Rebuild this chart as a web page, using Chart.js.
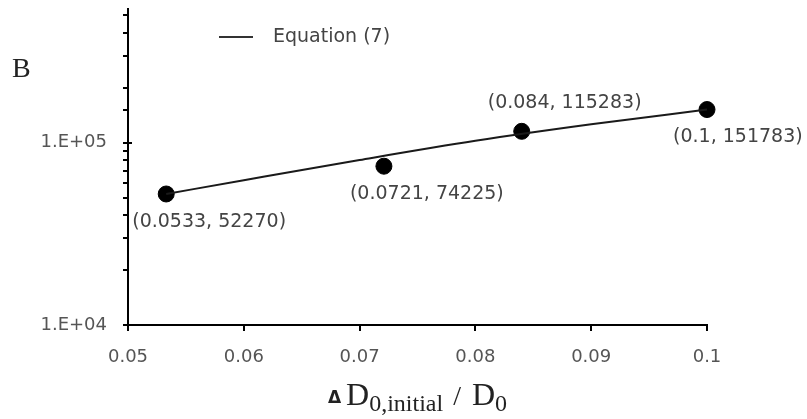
<!DOCTYPE html>
<html>
<head>
<meta charset="utf-8">
<script src="https://cdn.jsdelivr.net/npm/chart.js@4/dist/chart.umd.min.js"></script>
<style>
  html, body { margin: 0; padding: 0; background: #fff; }
</style>
</head>
<body>
<canvas id="chart" width="807" height="419"></canvas>
<script>
// measured points (x = dD0,initial / D0, B)
const dataX = [0.0533, 0.0721, 0.084, 0.1];
const dataB = [52270, 74225, 115283, 151783];
// Equation (7) curve
const eqX = [0.0533, 0.06, 0.07, 0.08, 0.09, 0.1];
const eqB = [52270, 62200, 80300, 102300, 126000, 151783];
// axis ticks
const xTicks = [0.05, 0.06, 0.07, 0.08, 0.09, 0.1];
const yMajor = [1e4, 1e5];
const yMajorLabels = ['1.E+04', '1.E+05'];
// where each point label sits
const labelSide = ['below', 'below', 'above', 'below'];

const sans = 'DejaVu Sans';
const serif = 'Liberation Serif';

const majorIndex = v => yMajor.findIndex(m => Math.abs(v - m) < m * 1e-6);

// ticks, point labels, legend and axis titles
const decor = {
    id: 'decor',
    afterDraw(chart) {
        const c = chart.ctx;
        const ca = chart.chartArea;
        const xs = chart.scales.x, ys = chart.scales.y;
        c.save();
        c.strokeStyle = '#000';
        c.lineWidth = 2;
        c.beginPath();
        ys.ticks.forEach(t => {
            if (t.value > ys.max * 0.999) return;
            const py = Math.round(ys.getPixelForValue(t.value));
            const major = majorIndex(t.value) >= 0;
            c.moveTo(ca.left - 5, py);
            c.lineTo(major ? ca.left + 4 : ca.left, py);
        });
        xs.ticks.forEach(t => {
            const px = Math.round(xs.getPixelForValue(t.value));
            c.moveTo(px, ca.bottom);
            c.lineTo(px, ca.bottom + 6);
        });
        c.stroke();

        // point labels
        const pts = chart.getDatasetMeta(1).data;
        c.font = '19px "' + sans + '"';
        c.fillStyle = '#444';
        c.textAlign = 'left';
        c.textBaseline = 'middle';
        pts.forEach((p, i) => {
            const txt = '(' + dataX[i] + ', ' + dataB[i] + ')';
            const dy = labelSide[i] === 'above' ? -28 : 28;
            c.fillText(txt, p.x - 34, p.y + dy);
        });

        // legend
        const ds = chart.data.datasets[0];
        c.strokeStyle = '#333';
        c.lineWidth = 2;
        c.beginPath();
        c.moveTo(ca.left + 91, ca.top + 28);
        c.lineTo(ca.left + 125, ca.top + 28);
        c.stroke();
        c.fillStyle = '#444';
        c.fillText(ds.label, ca.left + 145, ca.top + 28);

        // y title
        c.fillStyle = '#222';
        c.textBaseline = 'alphabetic';
        c.font = '28px "' + serif + '"';
        c.fillText('B', 12, 77);

        // x title with subscripts
        const parts = [
            { t: '\u0394', f: 'bold 17px "' + sans + '"', dy: -2, gap: 5 },
            { t: 'D', f: '32px "' + serif + '"', dy: 0, gap: 0 },
            { t: '0,initial', f: '24px "' + serif + '"', dy: 6, gap: 10 },
            { t: '/', f: '28px "' + serif + '"', dy: 0, gap: 11 },
            { t: 'D', f: '32px "' + serif + '"', dy: 0, gap: 0 },
            { t: '0', f: '24px "' + serif + '"', dy: 6, gap: 0 }
        ];
        let total = 0;
        parts.forEach(p => { c.font = p.f; p.w = c.measureText(p.t).width; total += p.w + p.gap; });
        let x = (ca.left + ca.right) / 2 - total / 2;
        parts.forEach(p => {
            c.font = p.f;
            c.fillText(p.t, x, 405 + p.dy);
            x += p.w + p.gap;
        });
        c.restore();
    }
};

new Chart(document.getElementById('chart'), {
    type: 'scatter',
    data: {
        datasets: [{
            label: 'Equation (7)',
            data: eqX.map((x, i) => ({ x: x, y: eqB[i] })),
            showLine: true,
            borderColor: '#1a1a1a',
            borderWidth: 2,
            pointRadius: 0,
            cubicInterpolationMode: 'monotone',
            clip: false
        }, {
            label: 'Measured',
            data: dataX.map((x, i) => ({ x: x, y: dataB[i] })),
            showLine: false,
            pointRadius: 8,
            backgroundColor: '#000',
            borderColor: '#000',
            clip: false
        }]
    },
    options: {
        responsive: false,
        animation: false,
        layout: { padding: { top: 5, right: 100, left: 0, bottom: 0 } },
        plugins: { legend: { display: false }, tooltip: { enabled: false } },
        scales: {
            x: {
                type: 'linear',
                min: 0.05,
                max: 0.1,
                afterBuildTicks: s => { s.ticks = xTicks.map(v => ({ value: v })); },
                afterFit: s => { s.height = 94; s.paddingLeft = 0; s.paddingRight = 0; },
                grid: { display: false, drawTicks: false },
                border: { color: '#000', width: 2 },
                ticks: {
                    padding: 22,
                    maxRotation: 0,
                    color: '#555',
                    font: { family: sans, size: 18 },
                    callback: v => String(+v.toFixed(2))
                }
            },
            y: {
                type: 'logarithmic',
                min: 1e4,
                max: 5.4e5,
                afterFit: s => { s.width = 128; s.paddingTop = 0; s.paddingBottom = 0; },
                grid: { display: false, drawTicks: false },
                border: { color: '#000', width: 2 },
                ticks: {
                    padding: 21,
                    autoSkip: false,
                    color: '#555',
                    font: { family: sans, size: 18 },
                    callback: v => {
                        const i = majorIndex(v);
                        return i < 0 ? '' : yMajorLabels[i];
                    }
                }
            }
        }
    },
    plugins: [decor]
});
</script>
</body>
</html>
